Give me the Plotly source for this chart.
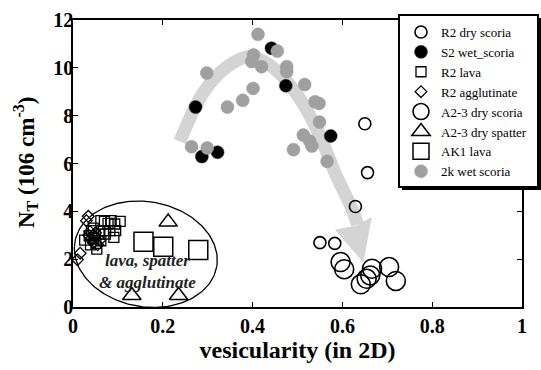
import numpy as np
import plotly.graph_objects as go

# ---------------- data ----------------
r2_dry_x = [0.650, 0.656, 0.629, 0.550, 0.583]
r2_dry_y = [7.66, 5.62, 4.20, 2.69, 2.66]

s2_wet_x = [0.273, 0.287, 0.322, 0.442, 0.474, 0.574]
s2_wet_y = [8.36, 6.29, 6.47, 10.82, 9.25, 7.15]

r2_lava_x = [0.026, 0.036, 0.041, 0.045, 0.051, 0.053, 0.058, 0.062, 0.070, 0.078,
             0.085, 0.093, 0.105, 0.095, 0.091, 0.068, 0.062, 0.072, 0.039, 0.045, 0.082]
r2_lava_y = [2.80, 2.98, 3.19, 2.88, 2.66, 2.42, 3.05, 3.61, 3.58, 3.50,
             3.61, 3.47, 3.58, 3.19, 2.91, 3.19, 2.77, 3.05, 2.60, 3.30, 3.19]

r2_agg_x = [0.010, 0.016, 0.030, 0.034, 0.035, 0.040, 0.045, 0.050, 0.055, 0.048, 0.060, 0.038]
r2_agg_y = [1.98, 2.25, 3.61, 3.79, 3.00, 2.85, 2.70, 3.10, 2.60, 2.95, 2.80, 3.15]

a23_dry_x = [0.596, 0.604, 0.641, 0.654, 0.666, 0.662, 0.704, 0.719]
a23_dry_y = [1.88, 1.58, 0.95, 1.18, 1.60, 1.32, 1.67, 1.09]

a23_spat_x = [0.212, 0.131, 0.235]
a23_spat_y = [3.55, 0.48, 0.48]

ak1_lava_x = [0.157, 0.201, 0.279]
ak1_lava_y = [2.73, 2.52, 2.38]

k2_wet_x = [0.412, 0.402, 0.398, 0.420, 0.455, 0.476, 0.476, 0.401, 0.378, 0.344,
            0.298, 0.264, 0.299, 0.516, 0.539, 0.548, 0.549, 0.513, 0.527, 0.532,
            0.491, 0.566]
k2_wet_y = [11.40, 10.54, 10.26, 10.05, 10.70, 10.05, 9.84, 9.14, 8.64, 8.36,
            9.78, 6.70, 6.65, 9.30, 8.58, 8.51, 7.73, 7.19, 6.94, 6.73,
            6.58, 6.09]

# trend arrow (annotation)
arrow_x = [0.238, 0.290, 0.340, 0.395, 0.450, 0.500, 0.545, 0.585, 0.618, 0.634]
arrow_y = [6.92, 8.95, 10.00, 10.47, 9.95, 8.85, 7.35, 5.55, 4.25, 3.45]
head_x = [0.585, 0.630, 0.664, 0.646, 0.585]
head_y = [3.22, 3.38, 3.72, 1.90, 3.22]

legend_names = ["R2 dry scoria", "S2 wet_scoria", "R2 lava", "R2 agglutinate",
                "A2-3 dry scoria", "A2-3 dry spatter", "AK1 lava", "2k wet scoria"]

x_ticks = [0, 0.2, 0.4, 0.6, 0.8, 1]
x_tick_text = ["0", "0.2", "0.4", "0.6", "0.8", "1"]
y_ticks = [0, 2, 4, 6, 8, 10, 12]

# ---------------- figure ----------------
W, H = 541, 370
ML, MR, MT, MB = 73, 19, 20, 63
PW, PH = W - ML - MR, H - MT - MB
XR, YR = [0, 1], [0, 12]
SERIF = "Liberation Serif"

def px2paper_x(p):
    return (p - ML) / PW

def px2paper_y(p):
    return (MT + PH - p) / PH

fig = go.Figure()

ARROW_COL = "#d4d4d4"
fig.add_trace(go.Scatter(x=arrow_x, y=arrow_y, mode="lines",
                         line=dict(color=ARROW_COL, width=13, shape="spline"),
                         showlegend=False, hoverinfo="skip"))
fig.add_trace(go.Scatter(x=head_x, y=head_y, mode="lines", fill="toself",
                         fillcolor=ARROW_COL, line=dict(color=ARROW_COL, width=1),
                         showlegend=False, hoverinfo="skip"))

t = np.linspace(0, 2 * np.pi, 200)
cxp, cyp, a, b, th = 145.8, 254.2, 72.0, 52.5, np.deg2rad(10)
px = cxp + a * np.cos(t) * np.cos(th) - b * np.sin(t) * np.sin(th)
py = cyp + a * np.cos(t) * np.sin(th) + b * np.sin(t) * np.cos(th)
ex = XR[0] + px2paper_x(px) * (XR[1] - XR[0])
ey = YR[0] + px2paper_y(py) * (YR[1] - YR[0])
fig.add_trace(go.Scatter(x=ex, y=ey, mode="lines", line=dict(color="black", width=1.3),
                         showlegend=False, hoverinfo="skip", cliponaxis=False))

def mk(x, y, name, symbol, size, fill, line_col="black", lw=1.5, rank=0):
    fig.add_trace(go.Scatter(
        x=x, y=y, mode="markers", name=name, legendrank=rank,
        marker=dict(symbol=symbol, size=size, color=fill,
                    line=dict(color=line_col, width=lw))))

mk(r2_lava_x, r2_lava_y, legend_names[2], "square-open", 10, "black", lw=1.3, rank=3)
mk(r2_agg_x, r2_agg_y, legend_names[3], "diamond-open", 9, "black", lw=1.3, rank=4)
mk(ak1_lava_x, ak1_lava_y, legend_names[6], "square-open", 19, "black", lw=1.5, rank=7)
mk(a23_spat_x, a23_spat_y, legend_names[5], "triangle-up-open", 16, "black", lw=1.5, rank=6)
mk(r2_dry_x, r2_dry_y, legend_names[0], "circle-open", 12, "black", lw=1.6, rank=1)
mk(a23_dry_x, a23_dry_y, legend_names[4], "circle-open", 19, "black", lw=1.6, rank=5)
mk(s2_wet_x, s2_wet_y, legend_names[1], "circle", 13, "black", line_col="#333333", lw=0.5, rank=2)
mk(k2_wet_x, k2_wet_y, legend_names[7], "circle", 13, "#a0a0a0", line_col="#a0a0a0", lw=0.5, rank=8)

fig.add_annotation(x=0.167, y=1.5, xref="x", yref="y", showarrow=False,
                   text="<i><b>lava, spatter<br>&amp; agglutinate</b></i>",
                   font=dict(family=SERIF, size=17, color="#222222"))

# y-axis title as rotated text
fig.add_annotation(x=px2paper_x(25), y=px2paper_y(163), xref="paper", yref="paper",
                   showarrow=False, textangle=-90, xanchor="center", yanchor="middle",
                   text="<b>N<sub>T</sub> (106 cm<sup>-3</sup>)</b>",
                   font=dict(family=SERIF, size=23, color="black"))

# legend box: drop shadow + framed white box
fig.add_shape(type="rect", xref="paper", yref="paper",
              x0=px2paper_x(402), x1=px2paper_x(541), y0=px2paper_y(190), y1=px2paper_y(18),
              fillcolor="black", line=dict(width=0), layer="above")
fig.add_shape(type="rect", xref="paper", yref="paper",
              x0=px2paper_x(399), x1=px2paper_x(538), y0=px2paper_y(187), y1=px2paper_y(15),
              fillcolor="white", line=dict(width=2, color="black"), layer="above")

axis_common = dict(showline=True, linecolor="black", linewidth=1.5, mirror="ticks",
                   ticks="inside", ticklen=5, tickwidth=1.2, tickcolor="black",
                   showgrid=False, zeroline=False,
                   tickfont=dict(family=SERIF, size=20, color="black", weight="bold"))

fig.update_layout(
    width=W, height=H,
    margin=dict(l=ML, r=MR, t=MT, b=MB, autoexpand=False),
    paper_bgcolor="white", plot_bgcolor="white",
    xaxis=dict(range=XR, tickvals=x_ticks, ticktext=x_tick_text,
               title=dict(text="vesicularity (in 2D)", standoff=2,
                          font=dict(family=SERIF, size=24, color="black", weight="bold")),
               **axis_common),
    yaxis=dict(range=YR, tickvals=y_ticks, ticklabelstandoff=-6, **axis_common),
    legend=dict(x=px2paper_x(401), y=px2paper_y(17), xanchor="left", yanchor="top",
                bgcolor="rgba(0,0,0,0)", borderwidth=0,
                font=dict(family=SERIF, size=13, color="black"),
                itemsizing="trace", tracegroupgap=0, traceorder="normal"),
    showlegend=True,
)

fig.write_html("out.html")
